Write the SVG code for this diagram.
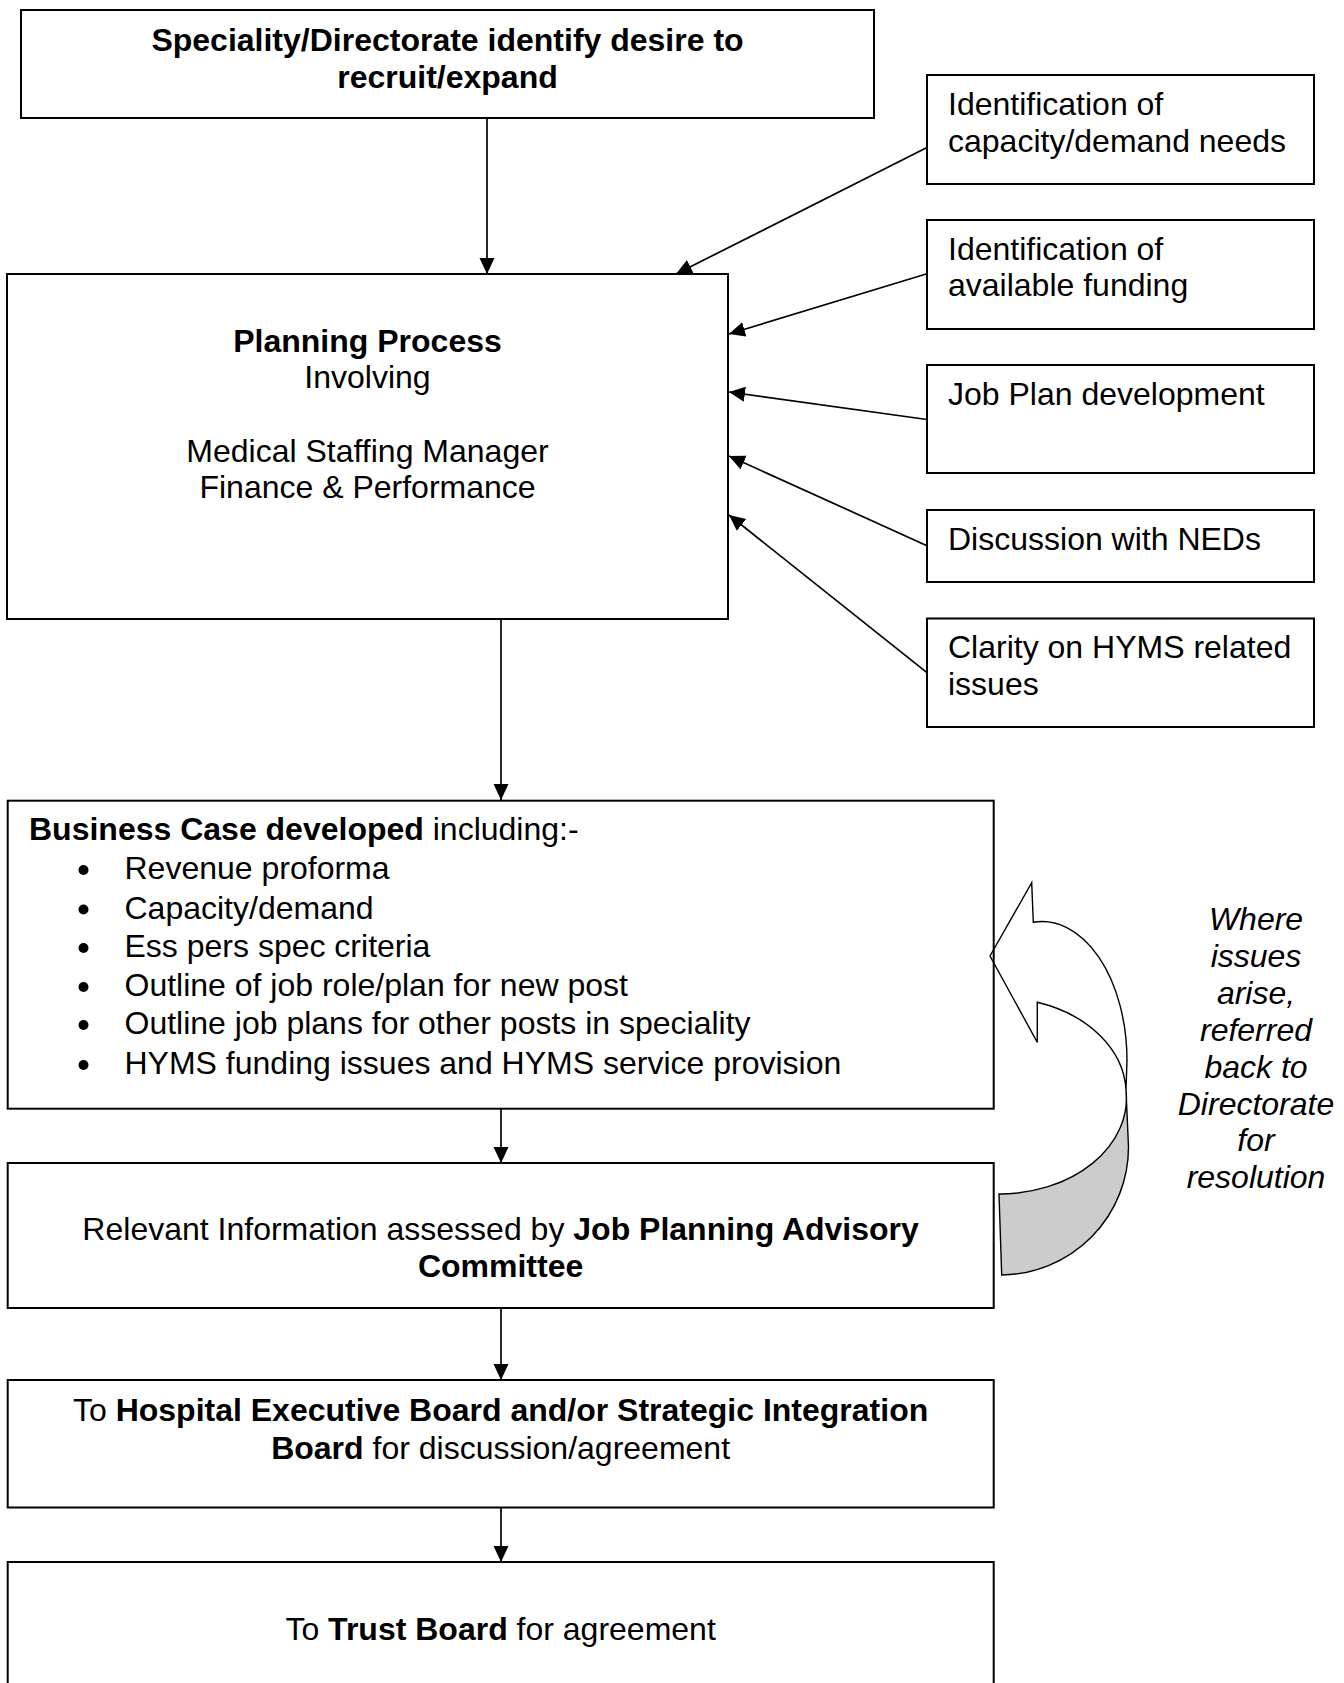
<svg xmlns="http://www.w3.org/2000/svg" width="1344" height="1683" viewBox="0 0 1344 1683">
  <style>
    .box { fill: none; stroke: #000; stroke-width: 2; }
    .conn { fill: none; stroke: #000; stroke-width: 1.7; marker-end: url(#head); }
    text { font-family: "Liberation Sans", Arial, sans-serif; font-size: 32px; fill: #000; }
    .c { text-anchor: middle; }
    .b { font-weight: bold; }
    .note { font-style: italic; text-anchor: middle; }
    .loop { stroke: #000; stroke-width: 1.4; stroke-linejoin: miter; }
  </style>
  <defs>
    <marker id="head" markerUnits="userSpaceOnUse" markerWidth="17" markerHeight="16" refX="16" refY="7.5" orient="auto">
      <path d="M0,0 L16,7.5 L0,15 Z" fill="#000"/>
    </marker>
  </defs>

  <rect width="1344" height="1683" fill="#fff"/>

  <!-- feedback loop arrow (drawn beneath the box outlines) -->
  <g id="loop-arrow">
    <path class="loop" fill="#fff" d="M990,956 L1031.7,882.7 L1033.3,922.3 A85,139 0 0 1 1127,1060 L1126,1090 A127,96 0 0 0 1037.3,1002.3 L1037.3,1042.3 Z"/>
    <path class="loop" fill="#cccccc" d="M1126,1090 L1128.5,1147 A128,128 0 0 1 1001.7,1275 L999,1194 A127,96 0 0 0 1126,1090 Z"/>
  </g>

  <!-- connectors -->
  <g id="connectors">
    <line class="conn" x1="487" y1="118" x2="487" y2="274"/>
    <line class="conn" x1="501" y1="619" x2="501" y2="800"/>
    <line class="conn" x1="501" y1="1109" x2="501" y2="1163"/>
    <line class="conn" x1="501" y1="1308" x2="501" y2="1380"/>
    <line class="conn" x1="501" y1="1507.5" x2="501" y2="1562"/>
    <line class="conn" x1="927" y1="147.6" x2="676" y2="274"/>
    <line class="conn" x1="927" y1="273.8" x2="729" y2="334"/>
    <line class="conn" x1="927" y1="419.5" x2="729" y2="392"/>
    <line class="conn" x1="927" y1="545.7" x2="729" y2="456"/>
    <line class="conn" x1="927" y1="672.7" x2="729" y2="515"/>
  </g>

  <g id="speciality">
    <rect class="box" x="21" y="10" width="853" height="108"/>
    <text class="c b" x="447.5" y="51">Speciality/Directorate identify desire to</text>
    <text class="c b" x="447.5" y="88">recruit/expand</text>
  </g>

  <g id="planning">
    <rect class="box" x="7" y="274" width="721" height="345"/>
    <text class="c b" x="367.5" y="352">Planning Process</text>
    <text class="c" x="367.5" y="388">Involving</text>
    <text class="c" x="367.5" y="461.5">Medical Staffing Manager</text>
    <text class="c" x="367.5" y="498">Finance &amp; Performance</text>
  </g>

  <g id="capacity">
    <rect class="box" x="927" y="75" width="387" height="109"/>
    <text x="948" y="115">Identification of</text>
    <text x="948" y="151.5">capacity/demand needs</text>
  </g>

  <g id="funding">
    <rect class="box" x="927" y="220" width="387" height="109"/>
    <text x="948" y="260.3">Identification of</text>
    <text x="948" y="296.3">available funding</text>
  </g>

  <g id="jobplan">
    <rect class="box" x="927" y="365" width="387" height="108"/>
    <text x="948" y="405">Job Plan development</text>
  </g>

  <g id="neds">
    <rect class="box" x="927" y="510" width="387" height="72"/>
    <text x="948" y="550">Discussion with NEDs</text>
  </g>

  <g id="hyms">
    <rect class="box" x="927" y="618.5" width="387" height="108.5"/>
    <text x="948" y="658.4">Clarity on HYMS related</text>
    <text x="948" y="695.3">issues</text>
  </g>

  <g id="business-case">
    <rect class="box" x="7.7" y="800.7" width="986" height="308"/>
    <text x="29" y="840"><tspan class="b">Business Case developed</tspan> including:-</text>
    <g fill="#000">
      <circle cx="83.5" cy="870" r="5"/>
      <circle cx="83.5" cy="909.5" r="5"/>
      <circle cx="83.5" cy="948" r="5"/>
      <circle cx="83.5" cy="987" r="5"/>
      <circle cx="83.5" cy="1025" r="5"/>
      <circle cx="83.5" cy="1065" r="5"/>
    </g>
    <text x="124.5" y="879">Revenue proforma</text>
    <text x="124.5" y="918.5">Capacity/demand</text>
    <text x="124.5" y="957">Ess pers spec criteria</text>
    <text x="124.5" y="996">Outline of job role/plan for new post</text>
    <text x="124.5" y="1034">Outline job plans for other posts in speciality</text>
    <text x="124.5" y="1074">HYMS funding issues and HYMS service provision</text>
  </g>

  <g id="advisory">
    <rect class="box" x="7.7" y="1163" width="986" height="145"/>
    <text class="c" x="500.6" y="1240">Relevant Information assessed by <tspan class="b">Job Planning Advisory</tspan></text>
    <text class="c b" x="500.6" y="1277">Committee</text>
  </g>

  <g id="exec-board">
    <rect class="box" x="7.7" y="1380" width="986" height="127.5"/>
    <text class="c" x="500.6" y="1420.5">To <tspan class="b">Hospital Executive Board and/or Strategic Integration</tspan></text>
    <text class="c" x="500.6" y="1458.5"><tspan class="b">Board</tspan> for discussion/agreement</text>
  </g>

  <g id="trust-board">
    <rect class="box" x="7.7" y="1562" width="986" height="140"/>
    <text class="c" x="500.6" y="1640">To <tspan class="b">Trust Board</tspan> for agreement</text>
  </g>

  <g id="loop-note">
    <text class="note" x="1256" y="930">Where</text>
    <text class="note" x="1256" y="967">issues</text>
    <text class="note" x="1256" y="1004">arise,</text>
    <text class="note" x="1256" y="1041">referred</text>
    <text class="note" x="1256" y="1077.5">back to</text>
    <text class="note" x="1256" y="1114.5">Directorate</text>
    <text class="note" x="1256" y="1151">for</text>
    <text class="note" x="1256" y="1188">resolution</text>
  </g>
</svg>
